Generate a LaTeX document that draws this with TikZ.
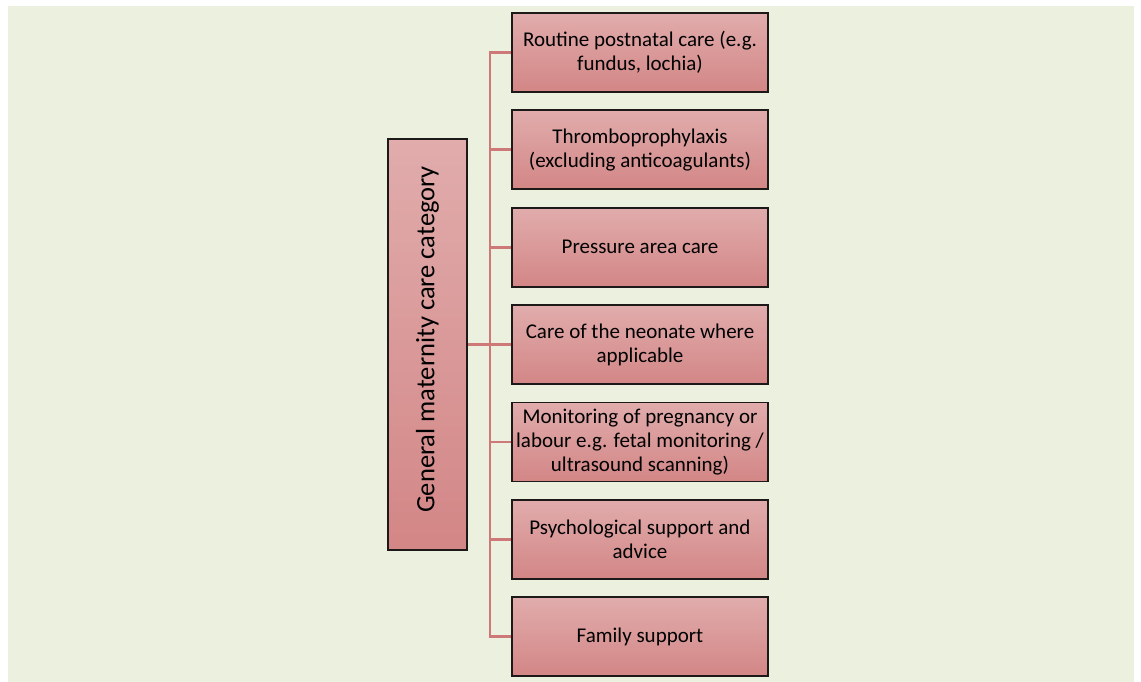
\documentclass[tikz,border=0pt]{standalone}
\usepackage{fontspec}
\setmainfont{Carlito}
\definecolor{bggreen}{RGB}{235,241,222}
\definecolor{boxtop}{RGB}{225,172,172}
\definecolor{boxbot}{RGB}{211,134,134}
\definecolor{conncol}{RGB}{207,120,120}
\definecolor{edgecol}{RGB}{30,25,25}
\begin{document}
\begin{tikzpicture}[x=1pt,y=-1pt,
  catbox/.style={draw=edgecol, line width=1.6pt, top color=boxtop, bottom color=boxbot,
    rectangle, minimum width=256pt, minimum height=79pt, inner sep=0pt, align=center,
    font=\fontsize{21}{24}\selectfont, text=black},
  mainbox/.style={draw=edgecol, line width=1.6pt, top color=boxtop, bottom color=boxbot,
    rectangle, minimum width=79pt, minimum height=411pt, inner sep=0pt},
  conn/.style={draw=conncol, line width=2.6pt}]
\useasboundingbox (0,0) rectangle (1141,682);
\fill[white] (0,0) rectangle (1141,682);
\fill[bggreen] (8,6) rectangle (1134,682);

\coordinate (bus) at (490,344.5);
\node[mainbox] (L) at (427.5,344.5) {};
\node[catbox] (b1) at (640,52.5) {Routine postnatal care (e.g.\\fundus, lochia)};
\node[catbox] (b2) at (640,149.8) {Thromboprophylaxis\\(excluding anticoagulants)};
\node[catbox] (b3) at (640,247.2) {Pressure area care};
\node[catbox] (b4) at (640,344.5) {Care of the neonate where\\applicable};
\node[catbox] (b5) at (640,441.8) {Monitoring of pregnancy or\\labour e.g. fetal monitoring /\\ultrasound scanning)};
\node[catbox] (b6) at (640,539.2) {Psychological support and\\advice};
\node[catbox] (b7) at (640,636.5) {Family support};

\draw[conn] (b1.west) -- (b1.west -| bus) -- (b7.west -| bus) -- (b7.west);
\foreach \b in {b2,b3,b4,b5,b6} { \draw[conn] (\b.west) -- (\b.west -| bus); }
\draw[conn] (L.east) -- (bus);

\node[rotate=90, font=\fontsize{26.5}{30}\selectfont] (Lt) at ([yshift=5pt]L.center) {General maternity care category};
\end{tikzpicture}
\end{document}
